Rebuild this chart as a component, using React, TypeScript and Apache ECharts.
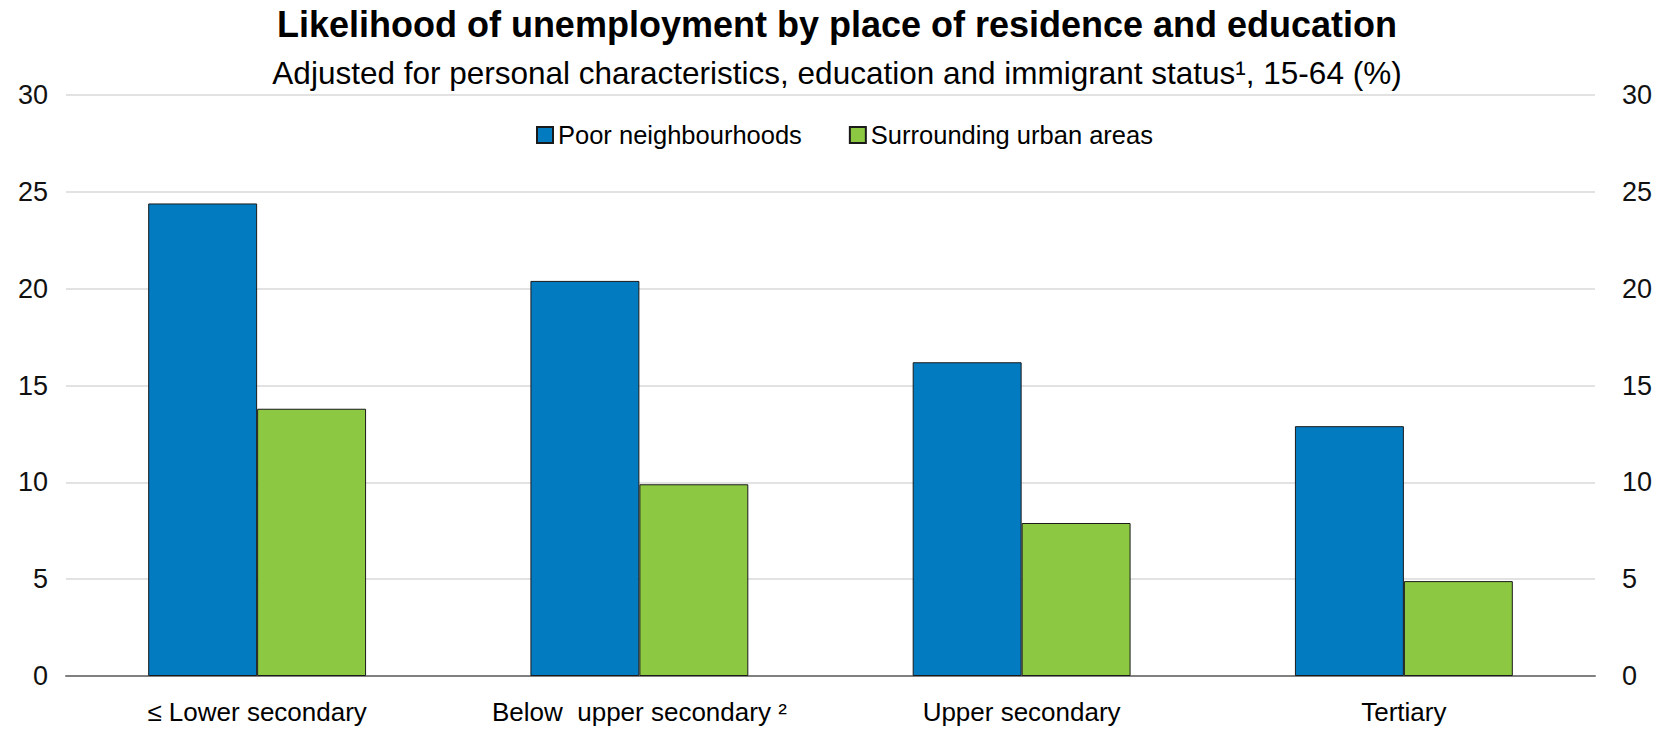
import React, { useEffect, useRef } from "react";
import * as echarts from "echarts";

const categories = ["≤ Lower secondary", "Below  upper secondary ²", "Upper secondary", "Tertiary"];
const poorNeighbourhoods = [24.4, 20.4, 16.2, 12.9];
const surroundingUrban = [13.8, 9.9, 7.9, 4.9];
const seriesNames = ["Poor neighbourhoods", "Surrounding urban areas"];
const titleText = "Likelihood of unemployment by place of residence and education";
const subtitleText = "Adjusted for personal characteristics, education and immigrant status¹, 15-64 (%)";

const FONT = "'Liberation Sans Narrow', 'Arial Narrow', 'Liberation Sans', sans-serif";

export default function App() {
  const ref = useRef<HTMLDivElement>(null);
  useEffect(() => {
    document.body.style.margin = "0";
    if (!ref.current) return;
    const chart = echarts.init(ref.current, null, { renderer: "svg" });
    const yAxisBase = {
      type: "value",
      min: 0,
      max: 30,
      interval: 5,
      axisLine: { show: false },
      axisTick: { show: false },
      splitLine: { lineStyle: { color: "#e0e0e0", width: 1.5 } },
      axisLabel: { color: "#111", fontSize: 27, fontFamily: FONT },
    };
    chart.setOption({
      animation: false,
      backgroundColor: "#fff",
      title: [
        {
          text: titleText,
          left: 832,
          top: 1,
          textAlign: "center",
          textStyle: { fontFamily: FONT, fontWeight: "bold", fontSize: 36, color: "#000" },
        },
        {
          text: subtitleText,
          left: 832,
          top: 52,
          textAlign: "center",
          textStyle: { fontFamily: FONT, fontWeight: "normal", fontSize: 31.5, color: "#000" },
        },
      ],
      legend: {
        left: 531,
        top: 117,
        itemWidth: 16,
        itemHeight: 16,
        itemGap: 47,
        icon: "rect",
        textStyle: { fontFamily: FONT, fontSize: 25.5, color: "#000" },
        data: seriesNames,
      },
      grid: { left: 66, right: 70, top: 95, bottom: 54, containLabel: false },
      xAxis: {
        type: "category",
        data: categories,
        axisLine: { show: true, lineStyle: { color: "#808080", width: 2 } },
        axisTick: { show: false },
        axisLabel: { color: "#000", fontSize: 26, fontFamily: FONT, margin: 23, interval: 0 },
      },
      yAxis: [
        { ...yAxisBase, position: "left", axisLabel: { ...yAxisBase.axisLabel, margin: 18 } },
        { ...yAxisBase, position: "right", axisLabel: { ...yAxisBase.axisLabel, margin: 27 } },
      ],
      series: [
        {
          name: seriesNames[0],
          type: "bar",
          data: poorNeighbourhoods,
          barGap: "0%",
          barCategoryGap: "43%",
          itemStyle: { color: "#037BC1", borderColor: "#1a1a1a", borderWidth: 1 },
        },
        {
          name: seriesNames[1],
          type: "bar",
          data: surroundingUrban,
          barGap: "0%",
          barCategoryGap: "43%",
          itemStyle: { color: "#8CC841", borderColor: "#1a1a1a", borderWidth: 1 },
        },
      ],
    });
    return () => chart.dispose();
  }, []);
  return <div ref={ref} style={{ width: 1665, height: 730 }} />;
}
